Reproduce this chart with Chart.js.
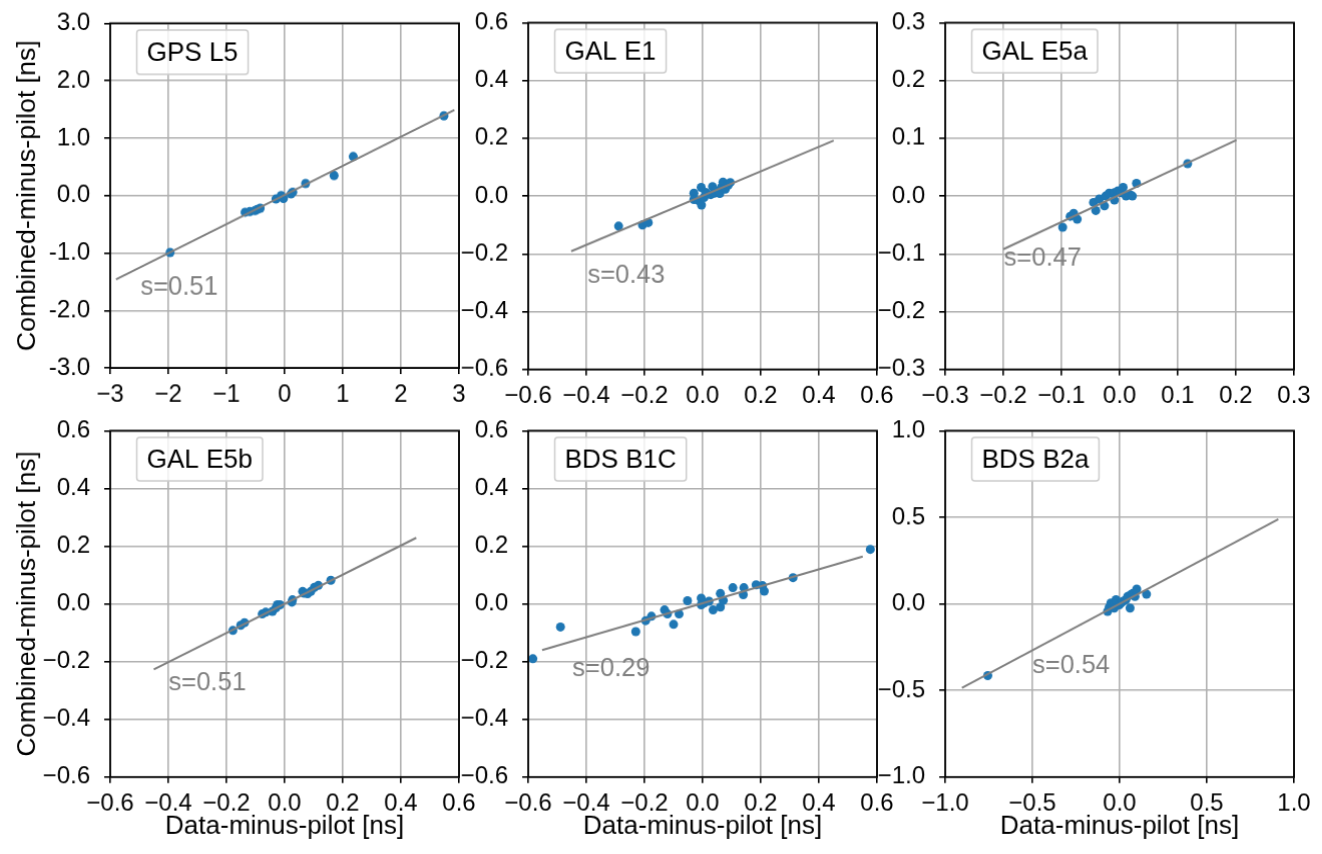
<!DOCTYPE html>
<html>
<head>
<meta charset="utf-8">
<script src="https://cdn.jsdelivr.net/npm/chart.js@4.4.1/dist/chart.umd.min.js"></script>
<style>
body { margin: 0; background: #fff; width: 1322px; height: 854px; overflow: hidden; position: relative; }
canvas { position: absolute; }
</style>
</head>
<body>
<script>
const FONT = "'Liberation Sans', Arial, sans-serif";

// GPS L5
const gpsL5X = [-1.97, -0.68, -0.60, -0.51, -0.47, -0.42, -0.15, -0.06, -0.02, 0.11, 0.14, 0.36, 0.85, 1.18, 2.74];
const gpsL5Y = [-0.99, -0.29, -0.28, -0.26, -0.24, -0.22, -0.06, 0.00, -0.05, 0.03, 0.06, 0.21, 0.35, 0.68, 1.39];
const gpsL5FitX = [-2.90, 2.92];
const gpsL5FitY = [-1.46, 1.49];

// GAL E1
const galE1X = [-0.289, -0.207, -0.187, -0.030, -0.030, -0.014, -0.005, -0.004, 0.005, 0.010, 0.015, 0.028, 0.034, 0.040, 0.045, 0.059, 0.065, 0.070, 0.078, 0.088, 0.095];
const galE1Y = [-0.104, -0.100, -0.092, 0.010, -0.012, -0.016, 0.030, -0.031, -0.005, 0.013, 0.008, 0.005, 0.033, 0.010, 0.018, 0.009, 0.030, 0.048, 0.024, 0.038, 0.047];
const galE1FitX = [-0.452, 0.451];
const galE1FitY = [-0.191, 0.192];

// GAL E5a
const galE5aX = [-0.098, -0.085, -0.079, -0.073, -0.045, -0.041, -0.035, -0.026, -0.024, -0.018, -0.009, -0.009, -0.003, 0.002, 0.006, 0.011, 0.017, 0.022, 0.029, 0.117];
const galE5aY = [-0.054, -0.035, -0.030, -0.040, -0.011, -0.025, -0.005, -0.017, 0.000, 0.005, 0.006, -0.007, 0.009, 0.006, 0.015, 0.000, 0.003, 0.000, 0.022, 0.056];
const galE5aFitX = [-0.200, 0.201];
const galE5aFitY = [-0.092, 0.097];

// GAL E5b
const galE5bX = [-0.178, -0.151, -0.138, -0.077, -0.065, -0.042, -0.030, -0.025, -0.016, 0.025, 0.027, 0.062, 0.067, 0.079, 0.090, 0.102, 0.116, 0.159];
const galE5bY = [-0.092, -0.074, -0.065, -0.035, -0.029, -0.026, -0.014, -0.003, -0.003, 0.006, 0.014, 0.043, 0.037, 0.035, 0.043, 0.057, 0.064, 0.082];
const galE5bFitX = [-0.450, 0.453];
const galE5bFitY = [-0.227, 0.229];

// BDS B1C
const bdsB1cX = [-0.584, -0.489, -0.230, -0.196, -0.176, -0.131, -0.121, -0.100, -0.081, -0.052, -0.005, -0.005, 0.005, 0.022, 0.036, 0.061, 0.061, 0.071, 0.104, 0.140, 0.142, 0.184, 0.206, 0.212, 0.311, 0.577];
const bdsB1cY = [-0.190, -0.080, -0.096, -0.058, -0.043, -0.021, -0.035, -0.071, -0.035, 0.011, 0.020, -0.003, 0.003, 0.009, -0.021, 0.036, -0.011, 0.012, 0.056, 0.032, 0.056, 0.066, 0.063, 0.044, 0.091, 0.189];
const bdsB1cFitX = [-0.552, 0.551];
const bdsB1cFitY = [-0.160, 0.164];

// BDS B2a
const bdsB2aX = [-0.756, -0.069, -0.060, -0.050, -0.040, -0.031, -0.021, -0.002, 0.008, 0.017, 0.036, 0.046, 0.060, 0.065, 0.075, 0.088, 0.098, 0.154];
const bdsB2aY = [-0.414, -0.043, -0.020, 0.005, -0.010, -0.024, 0.024, -0.005, 0.005, 0.014, 0.024, 0.043, -0.024, 0.053, 0.060, 0.043, 0.085, 0.056];
const bdsB2aFitX = [-0.904, 0.910];
const bdsB2aFitY = [-0.485, 0.489];

const panelNames = ['GPS L5', 'GAL E1', 'GAL E5a', 'GAL E5b', 'BDS B1C', 'BDS B2a'];
const slopeTexts = ['s=0.51', 's=0.43', 's=0.47', 's=0.51', 's=0.29', 's=0.54'];
const axisLimits = [3, 0.6, 0.3, 0.6, 0.6, 1.0];
const tickSteps = [1, 0.2, 0.1, 0.2, 0.2, 0.5];
const xTitle = 'Data-minus-pilot [ns]';
const yTitle = 'Combined-minus-pilot [ns]';

const pointsX = [gpsL5X, galE1X, galE5aX, galE5bX, bdsB1cX, bdsB2aX];
const pointsY = [gpsL5Y, galE1Y, galE5aY, galE5bY, bdsB1cY, bdsB2aY];
const fitX = [gpsL5FitX, galE1FitX, galE5aFitX, galE5bFitX, bdsB1cFitX, bdsB2aFitX];
const fitY = [gpsL5FitY, galE1FitY, galE5aFitY, galE5bFitY, bdsB1cFitY, bdsB2aFitY];

// where the "s=" note sits, in data units of each panel
const noteAnchors = [[-2.48, -1.72], [-0.396, -0.30], [-0.199, -0.12], [-0.399, -0.30], [-0.448, -0.25], [-0.50, -0.40]];

// layout of the plot areas on the page
const colLeft = [110, 528, 945];
const rowTop = [22, 430];
const plotW = 348;
const plotH = 347;
const yAxisW = 100;

function to_points(xs, ys)
{
    const out = [];
    for (let i = 0; i < xs.length; i++)
        out.push({x: xs[i], y: ys[i]});
    return out;
}

function fmt_tick(v, decimals, minus)
{
    if (Math.abs(v) < 1e-9)
        v = 0;
    return v.toFixed(decimals).replace('-', minus);
}

const annotate_plugin = {
    id: 'annotate',
    afterDatasetsDraw(chart, args, opts) {
        const ctx = chart.ctx;
        const area = chart.chartArea;
        ctx.save();

        // legend-like label box
        ctx.font = '26px ' + FONT;
        const bw = ctx.measureText(opts.name).width + 20;
        const bx = area.left + 26.5, by = area.top + 6.5, bh = 43;
        ctx.beginPath();
        ctx.roundRect(bx, by, bw, bh, 3);
        ctx.fillStyle = 'rgba(255,255,255,0.8)';
        ctx.fill();
        ctx.strokeStyle = '#cccccc';
        ctx.lineWidth = 1.5;
        ctx.stroke();
        ctx.fillStyle = '#000';
        ctx.textBaseline = 'middle';
        ctx.fillText(opts.name, bx + 10, by + bh / 2 + 1);

        // slope note
        ctx.font = '25.5px ' + FONT;
        ctx.fillStyle = '#808080';
        ctx.textBaseline = 'alphabetic';
        const sx = chart.scales.x.getPixelForValue(opts.anchor[0]);
        const sy = chart.scales.y.getPixelForValue(opts.anchor[1]);
        ctx.fillText(opts.slope, sx, sy);

        // frame
        ctx.strokeStyle = '#000';
        ctx.lineWidth = 1.8;
        ctx.strokeRect(area.left, area.top, area.width, area.height);
        ctx.restore();
    }
};

function make_panel(i)
{
    const col = i % 3;
    const row = Math.floor(i / 3);
    const xAxisH = row === 1 ? 70 : 40;
    const lim = axisLimits[i];
    const step = tickSteps[i];

    const canvas = document.createElement('canvas');
    canvas.width = yAxisW + plotW + 40;
    canvas.height = plotH + xAxisH + 40;
    document.body.appendChild(canvas);

    const xDecimals = i === 0 ? 0 : 1;
    const yMinus = i === 0 ? '-' : '\u2212';

    const gridOpts = {
        color: '#b0b0b0',
        lineWidth: 1.6,
        drawTicks: true,
        tickLength: 6,
        tickColor: '#000',
        tickWidth: 1.6
    };

    const chart = new Chart(canvas.getContext('2d'), {
        type: 'scatter',
        data: {
            datasets: [
                {
                    data: to_points(fitX[i], fitY[i]),
                    showLine: true,
                    borderColor: '#808080',
                    borderWidth: 2,
                    pointRadius: 0,
                    order: 0
                },
                {
                    data: to_points(pointsX[i], pointsY[i]),
                    backgroundColor: '#1f77b4',
                    borderWidth: 0,
                    pointRadius: 4.5,
                    order: 1
                }
            ]
        },
        options: {
            responsive: false,
            animation: false,
            devicePixelRatio: 1,
            events: [],
            layout: { padding: { left: 0, top: 4, right: 4, bottom: 0 } },
            plugins: {
                legend: { display: false },
                tooltip: { enabled: false },
                annotate: { name: panelNames[i], slope: slopeTexts[i], anchor: noteAnchors[i] }
            },
            scales: {
                x: {
                    type: 'linear',
                    min: -lim,
                    max: lim,
                    afterFit: (scale) => { scale.height = xAxisH; },
                    grid: gridOpts,
                    border: { display: false },
                    ticks: {
                        stepSize: step,
                        autoSkip: false,
                        maxRotation: 0,
                        padding: 6,
                        color: '#000',
                        font: { family: FONT, size: 24 },
                        callback: (v) => fmt_tick(v, xDecimals, '\u2212')
                    },
                    title: {
                        display: row === 1,
                        text: xTitle,
                        color: '#000',
                        font: { family: FONT, size: 26 },
                        padding: { top: 0, bottom: 5 }
                    }
                },
                y: {
                    type: 'linear',
                    min: -lim,
                    max: lim,
                    afterFit: (scale) => { scale.width = yAxisW; },
                    grid: gridOpts,
                    border: { display: false },
                    ticks: {
                        stepSize: step,
                        autoSkip: false,
                        padding: 14,
                        color: '#000',
                        font: { family: FONT, size: 24 },
                        callback: (v) => fmt_tick(v, 1, yMinus)
                    },
                    title: {
                        display: col === 0,
                        text: yTitle,
                        color: '#000',
                        font: { family: FONT, size: 26 },
                        padding: { top: 2, bottom: 0 }
                    }
                }
            }
        },
        plugins: [annotate_plugin]
    });

    // grow the canvas until the plot area has the wanted size, then place it
    const a = chart.chartArea;
    const w = canvas.width + plotW - (a.right - a.left);
    const h = canvas.height + plotH - (a.bottom - a.top);
    chart.resize(w, h);
    canvas.style.width = w + 'px';
    canvas.style.height = h + 'px';
    const b = chart.chartArea;
    canvas.style.left = (colLeft[col] - b.left) + 'px';
    canvas.style.top = (rowTop[row] - b.top) + 'px';
}

for (let i = 0; i < 6; i++)
    make_panel(i);
</script>
</body>
</html>
